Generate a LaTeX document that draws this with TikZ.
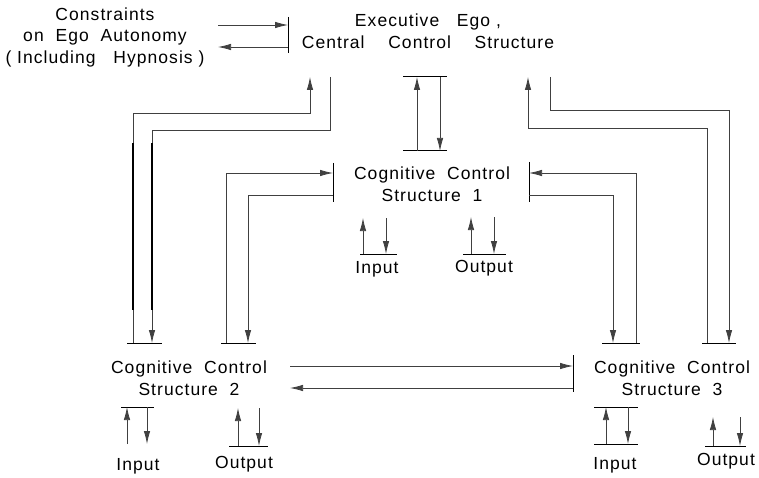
\documentclass[tikz,border=0pt]{standalone}
\usepackage{fontspec}
\setmainfont{Liberation Sans}[LetterSpace=6]
\usetikzlibrary{arrows.meta}

\tikzset{
  lbl/.style={font=\fontsize{17.5}{21.5}\selectfont, align=center, inner sep=0pt},
  wire/.style={line width=0.75pt, draw=black!75},
  into/.style={wire, -{Latex[length=13pt,width=6.5pt]}},
  bar/.style={line width=1pt},
}

\begin{document}
\begin{tikzpicture}[x=1pt, y=-1pt]
\useasboundingbox (0,0) rectangle (759,478);

% text blocks
\node[lbl] (constr) at (105,37) {Constraints\\on\ \ Ego\ \ Autonomy\\(\ Including\ \ \ Hypnosis\ )};
\node[lbl] (exec) at (428,31) {Executive\ \ \ Ego\ ,\\Central\ \ \ \ Control\ \ \ \ Structure};
\node[lbl] (ccs1) at (432,184) {Cognitive\ \ Control\\Structure\ \ 1};
\node[lbl] (ccs2) at (189,378) {Cognitive\ \ Control\\Structure\ \ 2};
\node[lbl] (ccs3) at (672,378) {Cognitive\ \ Control\\Structure\ \ 3};
\node[lbl] (in1) at (377,269) {Input};
\node[lbl] (out1) at (484,268) {Output};
\node[lbl] (in2) at (138,466) {Input};
\node[lbl] (out2) at (244,464) {Output};
\node[lbl] (in3) at (615,465) {Input};
\node[lbl] (out3) at (726,461) {Output};

% constraints <-> executive
\draw [bar] (288,17) -- (288,53);
\draw [into] (218,25) -- (288,25);
\draw [into] (288,47) -- (218,47);

% executive <-> structure 1
\draw [bar] (403,77) -- (447,77);
\draw [bar] (403,151) -- (447,151);
\draw [into] (417,151) -- (417,77);
\draw [into] (440,77) -- (440,151);

% executive <-> structure 2
\draw [into] (133,343) -- (133,113) -- (310,113) -- (310,77);
\draw [into] (330,77) -- (330,130) -- (152,130) -- (152,343);
\draw [line width=1.3pt] (133,143) -- (133,310);
\draw [line width=1.3pt] (152,143) -- (152,310);

% executive <-> structure 3
\draw [into] (707,343) -- (707,128) -- (528,128) -- (528,77);
\draw [into] (550,77) -- (550,110) -- (729,110) -- (729,343);

% structure 1 <-> structure 2
\draw [bar] (333,163) -- (333,202);
\draw [into] (226,343) -- (226,173) -- (333,173);
\draw [into] (333,195) -- (248,195) -- (248,343);

% structure 1 <-> structure 3
\draw [bar] (529,162) -- (529,202);
\draw [into] (636,343) -- (636,173) -- (529,173);
\draw [into] (529,195) -- (613,195) -- (613,343);

% bars above structures 2 and 3
\draw [bar] (127,343) -- (162,343);
\draw [bar] (221,343) -- (256,343);
\draw [bar] (602,343) -- (640,343);
\draw [bar] (702,343) -- (736,343);

% structure 2 <-> structure 3
\draw [bar] (573,355) -- (573,392);
\draw [into] (290,366) -- (573,366);
\draw [into] (573,388) -- (290,388);

% input / output pairs
\draw [bar] (360,254) -- (397,254);
\draw [into] (363,254) -- (363,218);
\draw [into] (386,218) -- (386,254);
\draw [bar] (463,254) -- (506,254);
\draw [into] (471,254) -- (471,217);
\draw [into] (494,217) -- (494,254);

\draw [bar] (121,407) -- (154,407);
\draw [into] (127,444) -- (127,407);
\draw [into] (147,407) -- (147,444);
\draw [bar] (229,446) -- (268,446);
\draw [into] (238,446) -- (238,408);
\draw [into] (259,408) -- (259,446);

\draw [bar] (594,407) -- (638,407);
\draw [bar] (594,444) -- (638,444);
\draw [into] (606,444) -- (606,407);
\draw [into] (628,407) -- (628,444);
\draw [bar] (705,446) -- (746,446);
\draw [into] (713,446) -- (713,417);
\draw [into] (740,417) -- (740,446);
\end{tikzpicture}
\end{document}
